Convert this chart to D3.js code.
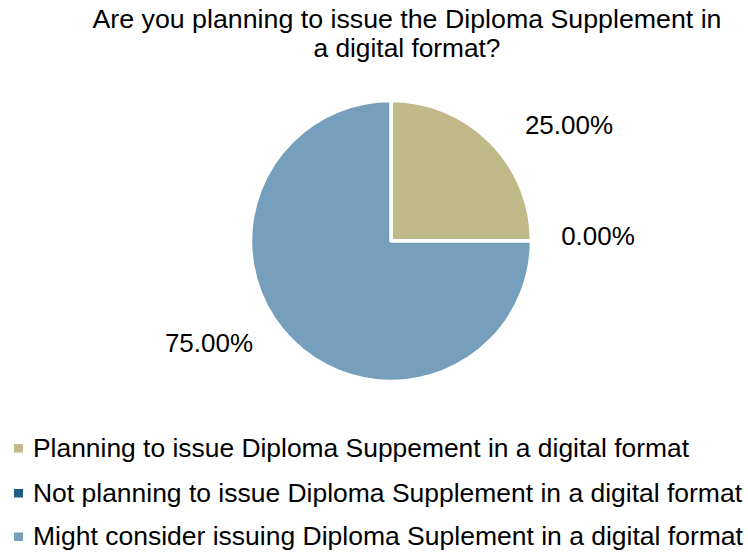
<!DOCTYPE html>
<html><head><meta charset="utf-8">
<script src="https://cdn.jsdelivr.net/npm/d3@7"></script>
<style>html,body{margin:0;padding:0;background:#fff;} svg{display:block;}</style>
</head><body>
<svg id="chart" width="748" height="554"></svg>
<script>
const titleLines = ["Are you planning to issue the Diploma Supplement in", "a digital format?"];
const categories = [
  "Planning to issue Diploma Suppement in a digital format",
  "Not planning to issue Diploma Supplement in a digital format",
  "Might consider issuing Diploma Suplement in a digital format"
];
const values = [25, 0, 75];
const labels = ["25.00%", "0.00%", "75.00%"];
const colors = ["#C0BA88", "#1F5F8A", "#769FBC"];

const svg = d3.select("#chart");
const font = "'Liberation Sans Narrow','Arial Narrow','Liberation Sans',Arial,sans-serif";
const cx = 391, cy = 241, r = 140.5;

function fit(sel, w) {
  sel.each(function(){ const n=this; const L=n.getComputedTextLength(); if (Math.abs(L-w)>1) { d3.select(n).attr("textLength", w).attr("lengthAdjust","spacingAndGlyphs"); } });
}

// title
const tw = [629, 187];
svg.selectAll("text.title").data(titleLines).join("text").attr("class","title")
  .attr("x", 407).attr("y", (d,i)=> 28 + i*28.5)
  .attr("text-anchor","middle").attr("font-family", font).attr("font-size", 25.5).attr("fill","#000")
  .text(d=>d).each(function(d,i){ fit(d3.select(this), tw[i]); });

const pie = d3.pie().sort(null).value(d=>d);
const arcs = pie(values);
const arc = d3.arc().innerRadius(0).outerRadius(r);
const g = svg.append("g").attr("transform", `translate(${cx},${cy})`);
g.selectAll("path").data(arcs).join("path")
  .attr("d", arc).attr("fill", (d,i)=>colors[i])
  .attr("stroke","#fff").attr("stroke-width",3.5).attr("stroke-linejoin","round");

// labels
const labelPos = [[569,134.3],[598,245],[209,352.3]];
svg.selectAll("text.lbl").data(labels).join("text").attr("class","lbl")
  .attr("x",(d,i)=>labelPos[i][0]).attr("y",(d,i)=>labelPos[i][1])
  .attr("text-anchor","middle").attr("font-family","'Liberation Sans',Arial,sans-serif").attr("font-size",26).attr("fill","#000")
  .text(d=>d);

// legend
const legBase = [456.6, 501.5, 545];
const legW = [656, 709, 709];
const leg = svg.selectAll("g.leg").data(categories).join("g").attr("class","leg");
leg.append("rect").attr("x",14).attr("y",(d,i)=>legBase[i]-12.5).attr("width",9).attr("height",8.5).attr("fill",(d,i)=>colors[i]);
leg.append("text").attr("x",33).attr("y",(d,i)=>legBase[i])
  .attr("font-family", font).attr("font-size",26.5).attr("fill","#000")
  .text(d=>d).each(function(d,i){ fit(d3.select(this), legW[i]); });
</script>
</body></html>
